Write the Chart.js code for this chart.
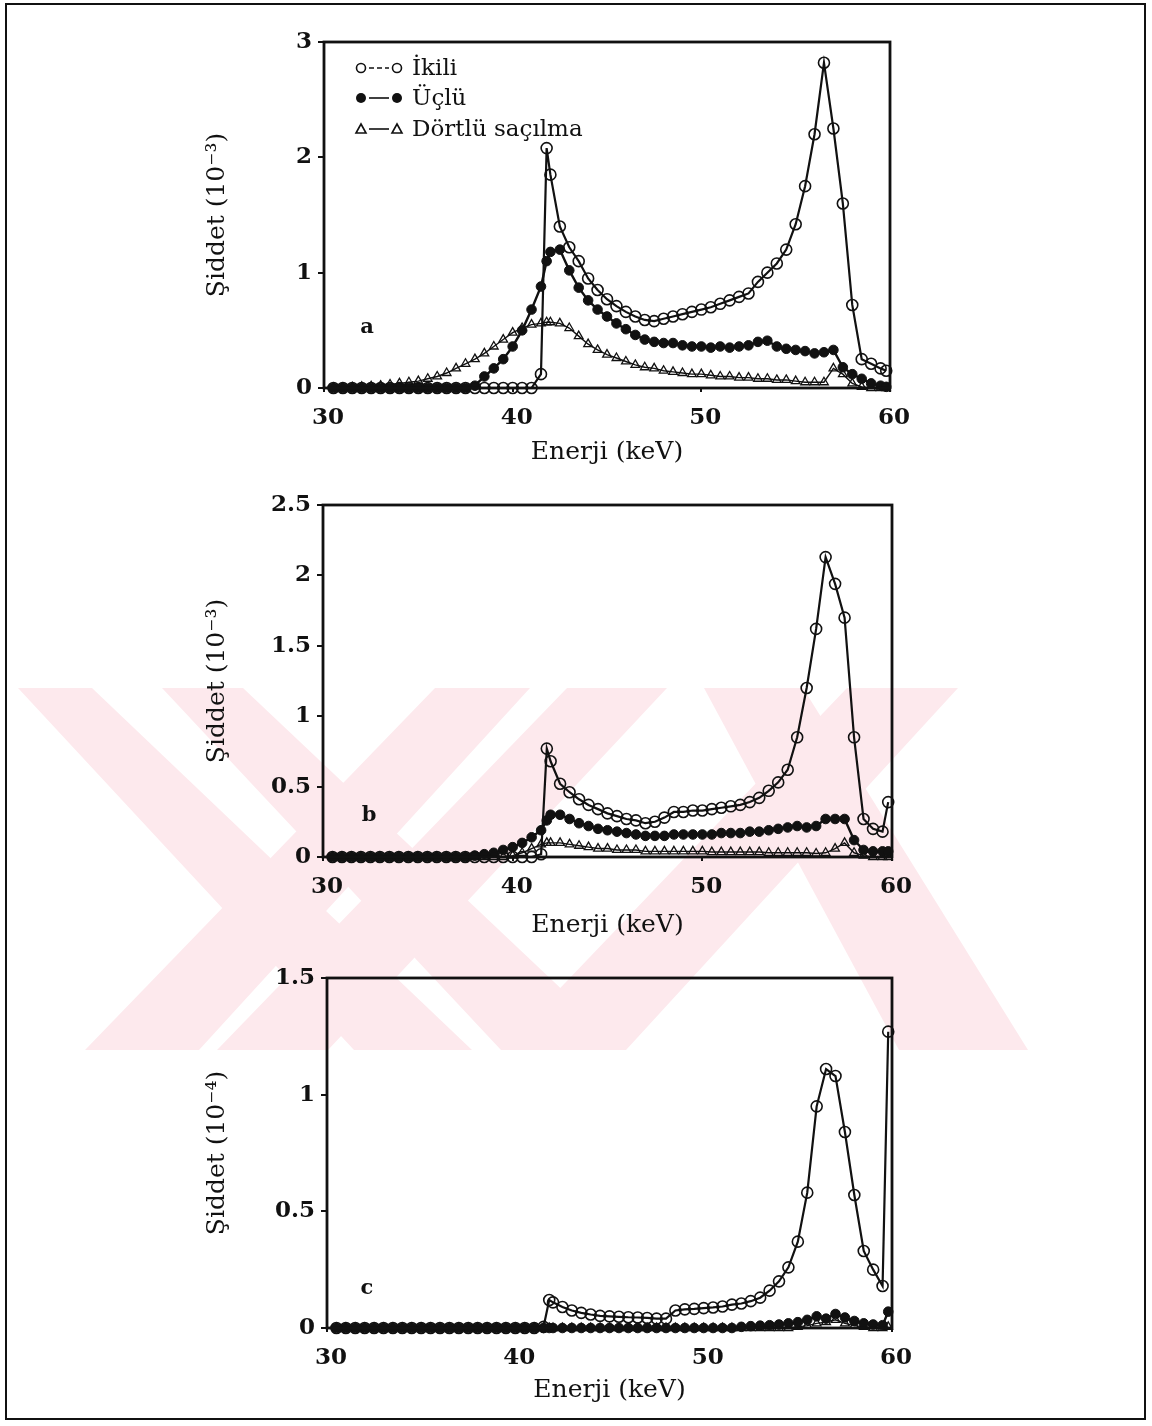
<!DOCTYPE html>
<html><head><meta charset="utf-8">
<script src="https://cdn.jsdelivr.net/npm/chart.js@4.4.1/dist/chart.umd.min.js"></script>
<style>
html,body{margin:0;padding:0;background:#fff;width:1152px;height:1426px;overflow:hidden;}
#page{position:relative;width:1152px;height:1426px;}
#bg{position:absolute;left:0;top:0;}
#frame{position:absolute;left:5px;top:3px;width:1141px;height:1417px;border:2px solid #111;box-sizing:border-box;}
canvas.pc{position:absolute;left:140px;}
</style></head><body>
<div id="page">
<canvas id="bg" width="1152" height="1426"></canvas>
<div id="frame"></div>
<canvas class="pc" id="ca"></canvas>
<canvas class="pc" id="cb"></canvas>
<canvas class="pc" id="cc"></canvas>
</div>
<script>
// ---------- DATA ----------
const energies = [30.5,31,31.5,32,32.5,33,33.5,34,34.5,35,35.5,36,36.5,37,37.5,38,38.5,39,39.5,40,40.5,41,41.5,41.8,
  42,42.5,43,43.5,44,44.5,45,45.5,46,46.5,47,47.5,48,48.5,49,49.5,50,50.5,51,51.5,52,52.5,53,53.5,54,54.5,55,55.5,56,56.5,57,57.5,58,58.5,59,59.5,59.8];

const seriesNames = ["İkili", "Üçlü", "Dörtlü saçılma"];
const xTicks = [30, 40, 50, 60];

// panel a (10^-3)
const ikiliA = [0,0,0,0,0,0,0,0,0,0,0,0,0,0,0,0,0,0,0,0,0,0,0.12,2.08,
  1.85,1.4,1.22,1.1,0.95,0.85,0.77,0.71,0.66,0.62,0.59,0.58,0.6,0.62,0.64,0.66,0.68,0.7,0.73,0.76,0.79,0.82,0.92,1.0,1.08,1.2,1.42,1.75,2.2,2.82,2.25,1.6,0.72,0.25,0.21,0.17,0.15];
const ucluA = [0,0,0,0,0,0,0,0,0,0,0,0,0,0,0,0.02,0.1,0.17,0.25,0.36,0.5,0.68,0.88,1.1,
  1.18,1.2,1.02,0.87,0.76,0.68,0.62,0.56,0.51,0.46,0.42,0.4,0.39,0.39,0.37,0.36,0.36,0.35,0.36,0.35,0.36,0.37,0.4,0.41,0.36,0.34,0.33,0.32,0.3,0.31,0.33,0.18,0.12,0.08,0.04,0.02,0.01];
const dortluA = [0,0,0.005,0.01,0.015,0.02,0.03,0.04,0.05,0.06,0.08,0.1,0.13,0.17,0.21,0.25,0.3,0.36,0.42,0.48,0.52,0.55,0.56,0.57,
  0.57,0.56,0.52,0.45,0.38,0.33,0.29,0.26,0.23,0.2,0.18,0.17,0.15,0.14,0.13,0.12,0.12,0.11,0.1,0.1,0.09,0.09,0.08,0.08,0.07,0.07,0.06,0.05,0.05,0.05,0.17,0.12,0.04,0.01,0,0,0];

// panel b (10^-3)
const ikiliB = [0,0,0,0,0,0,0,0,0,0,0,0,0,0,0,0,0,0,0,0,0,0,0.02,0.77,
  0.68,0.52,0.46,0.41,0.37,0.34,0.31,0.29,0.27,0.26,0.24,0.25,0.28,0.32,0.32,0.33,0.33,0.34,0.35,0.36,0.37,0.39,0.42,0.47,0.53,0.62,0.85,1.2,1.62,2.13,1.94,1.7,0.85,0.27,0.2,0.18,0.39];
const ucluB = [0,0,0,0,0,0,0,0,0,0,0,0,0,0,0,0.01,0.02,0.03,0.05,0.07,0.1,0.14,0.19,0.26,
  0.3,0.3,0.27,0.24,0.22,0.2,0.19,0.18,0.17,0.16,0.15,0.15,0.15,0.16,0.16,0.16,0.16,0.16,0.17,0.17,0.17,0.18,0.18,0.19,0.2,0.21,0.22,0.21,0.22,0.27,0.27,0.27,0.12,0.05,0.04,0.04,0.04];
const dortluB = [0,0,0,0,0,0,0,0,0,0,0,0,0,0,0,0,0,0,0,0.01,0.03,0.06,0.09,0.1,
  0.1,0.1,0.09,0.08,0.07,0.06,0.06,0.05,0.05,0.05,0.04,0.04,0.04,0.04,0.04,0.04,0.04,0.035,0.035,0.035,0.035,0.035,0.035,0.03,0.03,0.03,0.03,0.03,0.025,0.03,0.06,0.1,0.03,0.01,0,0,0];

// panel c (10^-4)
const ikiliC = [0,0,0,0,0,0,0,0,0,0,0,0,0,0,0,0,0,0,0,0,0,0,0.005,0.12,
  0.11,0.09,0.075,0.065,0.058,0.052,0.05,0.048,0.046,0.045,0.043,0.04,0.04,0.075,0.08,0.082,0.085,0.088,0.092,0.1,0.105,0.115,0.13,0.16,0.2,0.26,0.37,0.58,0.95,1.11,1.08,0.84,0.57,0.33,0.25,0.18,1.27];
const ucluC = [0,0,0,0,0,0,0,0,0,0,0,0,0,0,0,0,0,0,0,0,0,0,0,0,
  0,0,0,0,0,0,0,0,0,0,0,0,0,0,0,0,0,0,0,0,0.005,0.008,0.01,0.012,0.015,0.02,0.025,0.035,0.05,0.04,0.06,0.045,0.03,0.02,0.015,0.012,0.07];
const dortluC = [0,0,0,0,0,0,0,0,0,0,0,0,0,0,0,0,0,0,0,0,0,0,0,0,
  0,0,0,0,0,0,0,0,0,0,0,0,0,0,0,0,0,0,0,0,0,0,0,0,0,0,0.005,0.01,0.02,0.025,0.035,0.02,0.01,0.005,0,0,0.005];

// ---------- STYLE ----------
const SERIF = '"DejaVu Serif", "Liberation Serif", serif';
const INK = '#111';

// watermark (background decoration)
(function(){
  const c = document.getElementById('bg').getContext('2d');
  c.fillStyle = 'rgb(253,233,237)';
  const y0 = 688, y1 = 1050;
  const bands = [[18,92,354,472],[435,530,85,199],[162,243,501,626],[567,667,217,328],[847,958,501,626],[704,803,899,1028]];
  bands.forEach(b=>{
    c.beginPath(); c.moveTo(b[0],y0); c.lineTo(b[1],y0); c.lineTo(b[3],y1); c.lineTo(b[2],y1); c.closePath(); c.fill();
  });
})();

const decor = {
  id: 'decor',
  afterDatasetsDraw(chart, args, o) {
    const ctx = chart.ctx, a = chart.chartArea;
    ctx.save();
    ctx.strokeStyle = INK; ctx.lineWidth = 2.8;
    ctx.strokeRect(a.left, a.top, a.right - a.left, a.bottom - a.top);
    ctx.fillStyle = INK;
    ctx.font = 'bold 21px ' + SERIF;
    ctx.textBaseline = 'middle'; ctx.textAlign = 'center';
    ctx.fillText(o.letter, o.letterX - o.cx, o.letterY - o.cy);
    if (o.legend) {
      const rows = [68, 98, 129];
      ctx.font = '23px ' + SERIF;
      ctx.textAlign = 'left';
      rows.forEach((ry, i) => {
        const y = ry - o.cy, x1 = 361 - o.cx, x2 = 397 - o.cx;
        ctx.lineWidth = 1.6; ctx.strokeStyle = INK;
        ctx.setLineDash(i === 0 ? [5, 3] : []);
        ctx.beginPath(); ctx.moveTo(x1 + 8, y); ctx.lineTo(x2 - 8, y); ctx.stroke();
        ctx.setLineDash([]);
        [x1, x2].forEach(x => {
          ctx.beginPath();
          if (i === 0) { ctx.arc(x, y, 4.5, 0, Math.PI * 2); ctx.stroke(); }
          else if (i === 1) { ctx.arc(x, y, 5, 0, Math.PI * 2); ctx.fill(); }
          else { ctx.moveTo(x, y - 5); ctx.lineTo(x + 5, y + 4); ctx.lineTo(x - 5, y + 4); ctx.closePath(); ctx.stroke(); }
        });
        ctx.fillText(seriesNames[i], 412 - o.cx, y + 1);
      });
    }
    ctx.restore();
  }
};

function pts(vals){ return energies.map((x,i)=>({x:x, y:vals[i]})); }

function makePanel(id, p) {
  const cv = document.getElementById(id);
  const cx = 140, cy = p.top - 32;
  const xh = 90;
  const H = p.bottom - p.top + 32 + xh;
  cv.width = 780; cv.height = H;
  cv.style.top = cy + 'px';
  const yW = p.left - cx;
  new Chart(cv, {
    type: 'line',
    data: {
      datasets: [
        { label: seriesNames[0], data: pts(p.ik), borderColor: INK, borderWidth: 2.2, pointStyle: 'circle', pointRadius: 5.5,
          pointBorderWidth: 1.6, pointBorderColor: INK, pointBackgroundColor: 'rgba(255,255,255,0)', tension: 0, clip: false },
        { label: seriesNames[1], data: pts(p.uc), borderColor: INK, borderWidth: 2.4, pointStyle: 'circle', pointRadius: 4.8,
          pointBorderWidth: 1, pointBorderColor: INK, pointBackgroundColor: INK, tension: 0, clip: false },
        { label: seriesNames[2], data: pts(p.dt), borderColor: INK, borderWidth: 1.4, pointStyle: 'triangle', pointRadius: 5,
          pointBorderWidth: 1.3, pointBorderColor: INK, pointBackgroundColor: 'rgba(255,255,255,0)', tension: 0, clip: false }
      ]
    },
    options: {
      responsive: false, animation: false, devicePixelRatio: 1,
      layout: { padding: { top: 32, left: 0, right: cx + 780 - p.right, bottom: 0 } },
      plugins: {
        legend: { display: false }, tooltip: { enabled: false },
        decor: { cx: cx, cy: cy, letter: p.letter, letterX: p.lx, letterY: p.ly, legend: !!p.legend }
      },
      scales: {
        x: {
          type: 'linear', min: xTicks[0], max: xTicks[xTicks.length - 1],
          afterFit: s => { s.height = xh; },
          afterBuildTicks: s => { s.ticks = xTicks.map(v => ({ value: v })); },
          border: { display: false },
          grid: { drawOnChartArea: false, drawTicks: true, tickLength: 4, color: INK, lineWidth: 2 },
          ticks: { color: INK, padding: 12, labelOffset: 4, font: { family: SERIF, size: 23, weight: 'bold' }, callback: v => String(v), maxRotation: 0 },
          title: { display: true, text: 'Enerji (keV)', color: INK, font: { family: SERIF, size: 25 },
                   padding: { top: 0, bottom: p.bottom + xh - p.titleY - 15 } }
        },
        y: {
          min: 0, max: p.ymax,
          afterFit: s => { s.width = yW; },
          border: { display: false },
          grid: { drawOnChartArea: false, drawTicks: true, tickLength: 6, color: INK, lineWidth: 2 },
          ticks: { stepSize: p.step, color: INK, padding: 6, font: { family: SERIF, size: 23, weight: 'bold' }, callback: v => String(v) },
          title: { display: true, text: p.ytitle, color: INK, font: { family: SERIF, size: 25 },
                   padding: { top: 217 - cx - 15, bottom: 0 } }
        }
      }
    },
    plugins: [decor]
  });
}

makePanel('ca', { top: 42, bottom: 388, left: 324, right: 890, ymax: 3, step: 1, titleY: 452,
  ytitle: 'Şiddet (10⁻³)', ik: ikiliA, uc: ucluA, dt: dortluA, letter: 'a', lx: 367, ly: 328, legend: true });
makePanel('cb', { top: 505, bottom: 857, left: 323, right: 893, ymax: 2.5, step: 0.5, titleY: 925,
  ytitle: 'Şiddet (10⁻³)', ik: ikiliB, uc: ucluB, dt: dortluB, letter: 'b', lx: 369, ly: 816 });
makePanel('cc', { top: 978, bottom: 1328, left: 327, right: 895, ymax: 1.5, step: 0.5, titleY: 1390,
  ytitle: 'Şiddet (10⁻⁴)', ik: ikiliC, uc: ucluC, dt: dortluC, letter: 'c', lx: 367, ly: 1289 });
</script>
</body></html>
